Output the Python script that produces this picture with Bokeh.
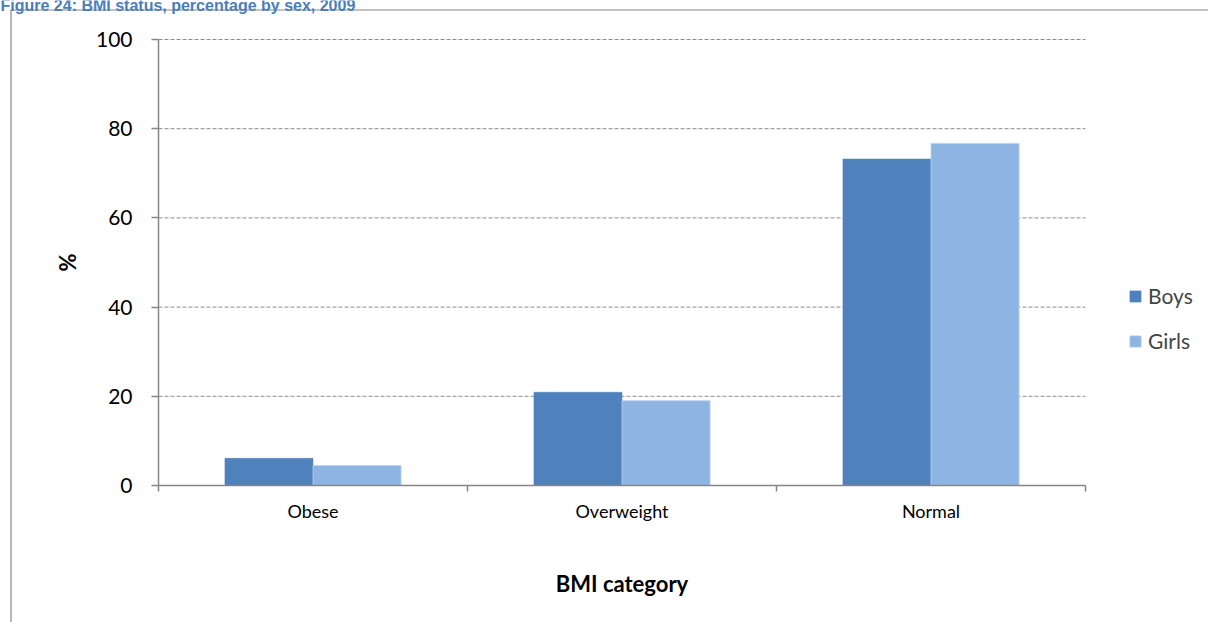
from bokeh.plotting import figure
from bokeh.models import (ColumnDataSource, Range1d, FixedTicker, Legend, LegendItem,
                          Label, BoxAnnotation)
from bokeh.transform import dodge
from bokeh.embed import file_html
from bokeh.resources import INLINE

# ---- data ----
categories = ["Obese", "Overweight", "Normal"]
boys = [6.1, 20.9, 73.2]
girls = [4.5, 19.0, 76.7]
y_ticks = [0, 20, 40, 60, 80, 100]
title_text = "Figure 24: BMI status, percentage by sex, 2009"
x_title = "BMI category"
y_title = "%"

# ---- layout constants (pixels) ----
W, H = 1208, 622
FL, FR, FT, FB = 158, 1085, 39, 485  # plot-area edges
BAR_W = 0.285
N = len(categories)

def px2x(px):
    return (px - FL) / (FR - FL) * N

def px2y(py):
    return (FB - py) / (FB - FT) * 100

x_pos = [i + 0.5 for i in range(N)]
src = ColumnDataSource(dict(x=x_pos, boys=boys, girls=girls, cat=categories))
grid_src = ColumnDataSource(dict(y=y_ticks[1:]))

# the frame covers the whole canvas; axes are placed with fixed_location
p = figure(width=W, height=H, x_range=Range1d(px2x(0), px2x(W)), y_range=Range1d(px2y(H), px2y(0)),
           output_backend="svg", toolbar_location=None,
           min_border=0, min_border_left=0, min_border_right=0, min_border_top=0, min_border_bottom=0)
p.outline_line_color = None
p.background_fill_color = "white"
p.border_fill_color = "white"
p.xgrid.visible = False
p.ygrid.visible = False

axis_col = "#868686"
font = "Lato"

# gridlines (dashed) across the plot area only
p.segment(x0=0, x1=N, y0="y", y1="y", source=grid_src, line_color="#8C8C8C",
          line_dash="4 2", line_width=1)

r1 = p.vbar(x=dodge("x", -BAR_W / 2, range=p.x_range), top="boys", width=BAR_W, source=src,
            fill_color="#4F81BD", line_color="#4F81BD", line_width=0.5)
r2 = p.vbar(x=dodge("x", BAR_W / 2, range=p.x_range), top="girls", width=BAR_W, source=src,
            fill_color="#8EB4E3", line_color="#B9D0EE", line_width=0.8)

# x axis
xa = p.xaxis[0]
xa.fixed_location = 0
xa.bounds = (0, N)
xa.ticker = FixedTicker(ticks=x_pos, minor_ticks=list(range(N + 1)))
xa.major_label_overrides = {x: c for x, c in zip(x_pos, categories)}
xa.major_tick_line_color = None
xa.major_tick_out = 0
xa.major_tick_in = 0
xa.minor_tick_line_color = axis_col
xa.minor_tick_line_width = 1.5
xa.minor_tick_out = 6
xa.minor_tick_in = 0
xa.axis_line_color = axis_col
xa.axis_line_width = 1.5
xa.major_label_text_font = font
xa.major_label_text_font_size = "18px"
xa.major_label_text_color = "black"
xa.major_label_standoff = 8
xa.axis_label = x_title
xa.axis_label_text_font = font
xa.axis_label_text_font_style = "bold"
xa.axis_label_text_font_size = "22px"
xa.axis_label_text_color = "black"
xa.axis_label_standoff = 45

# y axis
ya = p.yaxis[0]
ya.fixed_location = 0
ya.bounds = (0, 100)
ya.ticker = FixedTicker(ticks=y_ticks)
ya.minor_tick_line_color = None
ya.major_tick_line_color = axis_col
ya.major_tick_line_width = 1.5
ya.major_tick_out = 7
ya.major_tick_in = 0
ya.axis_line_color = axis_col
ya.axis_line_width = 1.5
ya.major_label_text_font = font
ya.major_label_text_font_size = "21px"
ya.major_label_text_color = "black"
ya.major_label_standoff = 19
ya.axis_label = y_title
ya.axis_label_text_font = font
ya.axis_label_text_font_style = "bold"
ya.axis_label_text_font_size = "22px"
ya.axis_label_text_color = "black"
ya.axis_label_standoff = 12

# legend
legend = Legend(items=[LegendItem(label="Boys", renderers=[r1]),
                       LegendItem(label="Girls", renderers=[r2])],
                location=(1128, H - 353),
                glyph_width=14, glyph_height=14, label_standoff=6,
                label_text_font=font, label_text_font_size="21px",
                label_height=25, spacing=20, padding=0, margin=0,
                border_line_color=None, background_fill_alpha=0)
p.add_layout(legend)

# chart border (outer)
p.add_layout(BoxAnnotation(left=px2x(10.5), right=px2x(1400), top=px2y(9.5), bottom=px2y(800),
                           fill_alpha=0, line_color="#888888", line_alpha=1.0, line_width=1.2))

# title (partially cut off at top of the picture)
p.add_layout(Label(x=px2x(0), y=px2y(5), text=title_text, text_font="Liberation Sans",
                   text_font_style="bold", text_font_size="16px", text_color="#4A7EBB",
                   text_baseline="alphabetic", text_align="left"))

open("out.html", "w").write(file_html(p, INLINE))
